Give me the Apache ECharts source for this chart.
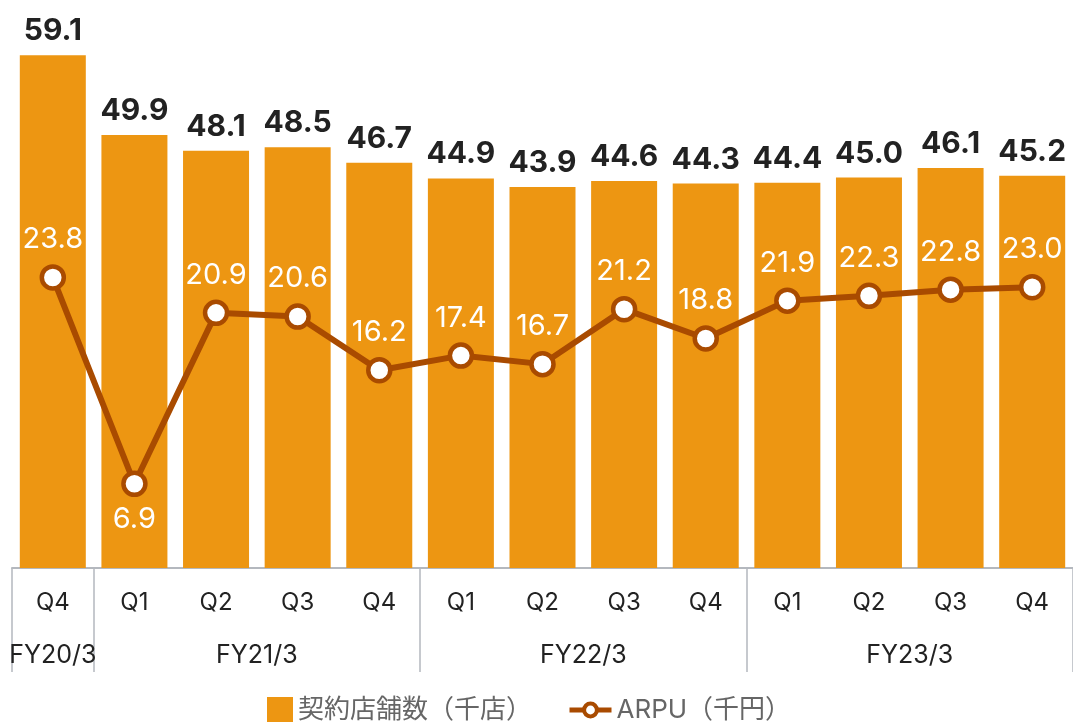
<!DOCTYPE html>
<html>
<head>
<meta charset="utf-8">
<script src="https://cdn.jsdelivr.net/npm/echarts@6/dist/echarts.min.js"></script>
<style>
  html, body { margin: 0; padding: 0; background: #fff; }
  #chart { width: 1073px; height: 722px; }
</style>
</head>
<body>
<div id="chart"></div>
<script>
const quarters = ['Q4', 'Q1', 'Q2', 'Q3', 'Q4', 'Q1', 'Q2', 'Q3', 'Q4', 'Q1', 'Q2', 'Q3', 'Q4']
const fiscalYears = ['FY20/3', 'FY21/3', 'FY22/3', 'FY23/3']
// centre of each fiscal-year group, in category index units
const fiscalCenters = [0, 2.5, 6.5, 10.5]
// first category index of each group (separator goes on its left edge)
const groupStarts = [0, 1, 5, 9]
const storeCounts = [59.1, 49.9, 48.1, 48.5, 46.7, 44.9, 43.9, 44.6, 44.3, 44.4, 45.0, 46.1, 45.2]
const arpu = [23.8, 6.9, 20.9, 20.6, 16.2, 17.4, 16.7, 21.2, 18.8, 21.9, 22.3, 22.8, 23.0]

const barColor = '#ED9612'
const lineColor = '#A94B00'
const fontFamily = 'Inter, "Noto Sans CJK JP", sans-serif'

const chart = echarts.init(document.getElementById('chart'))

const legendText = { color: '#666', fontSize: 26, fontFamily }

const option = {
  animation: false,
  textStyle: { fontFamily },
  grid: { left: 12, width: 1066, top: 4, bottom: 154 },
  legend: [
    {
      left: 262,
      top: 692,
      itemWidth: 26,
      itemHeight: 26,
      itemGap: 14,
      textStyle: legendText,
      data: [{ name: '契約店舗数（千店）', icon: 'rect', itemStyle: { color: barColor } }]
    },
    {
      left: 562,
      top: 692,
      itemWidth: 42,
      itemHeight: 16,
      textStyle: legendText,
      lineStyle: { width: 5 },
      itemStyle: { borderWidth: 4 },
      data: [{ name: 'ARPU（千円）' }]
    }
  ],
  xAxis: [
    {
      type: 'category',
      data: quarters,
      axisLine: { lineStyle: { color: '#B4B8BE', width: 2 } },
      axisTick: {
        show: true,
        length: 104,
        interval: (index) => groupStarts.includes(index),
        lineStyle: { color: '#B4B8BE', width: 1.5 }
      },
      axisLabel: { color: '#222', fontSize: 24, margin: 23 }
    },
    {
      type: 'value',
      min: -0.5,
      max: 12.5,
      position: 'bottom',
      offset: 52,
      axisLine: { show: false },
      axisTick: { show: false },
      splitLine: { show: false },
      axisLabel: {
        customValues: fiscalCenters,
        color: '#222',
        fontSize: 25,
        margin: 23,
        formatter: (v) => fiscalYears[fiscalCenters.indexOf(v)] || ''
      }
    }
  ],
  yAxis: [
    { type: 'value', min: 0, max: 65, show: false, splitLine: { show: false } },
    { type: 'value', min: 0, max: 46.2, show: false, splitLine: { show: false } }
  ],
  series: [
    {
      name: '契約店舗数（千店）',
      type: 'bar',
      data: storeCounts,
      barWidth: 66,
      itemStyle: { color: barColor },
      label: {
        show: true,
        position: 'top',
        distance: 9,
        color: '#222',
        fontSize: 30,
        fontWeight: 'bold',
        formatter: (p) => p.value.toFixed(1)
      }
    },
    {
      name: 'ARPU（千円）',
      type: 'line',
      yAxisIndex: 1,
      data: arpu.map((v, i) => i === 1 ? { value: v, label: { position: 'bottom', distance: 8 } } : v),
      symbol: 'circle',
      symbolSize: 22,
      lineStyle: { color: lineColor, width: 6 },
      itemStyle: { color: '#fff', borderColor: lineColor, borderWidth: 4.5 },
      label: {
        show: true,
        position: 'top',
        distance: 10,
        color: '#fff',
        fontSize: 29,
        formatter: (p) => p.value.toFixed(1)
      },
      z: 3
    }
  ]
}

chart.setOption(option)
window.addEventListener('resize', () => chart.resize())
</script>
</body>
</html>
